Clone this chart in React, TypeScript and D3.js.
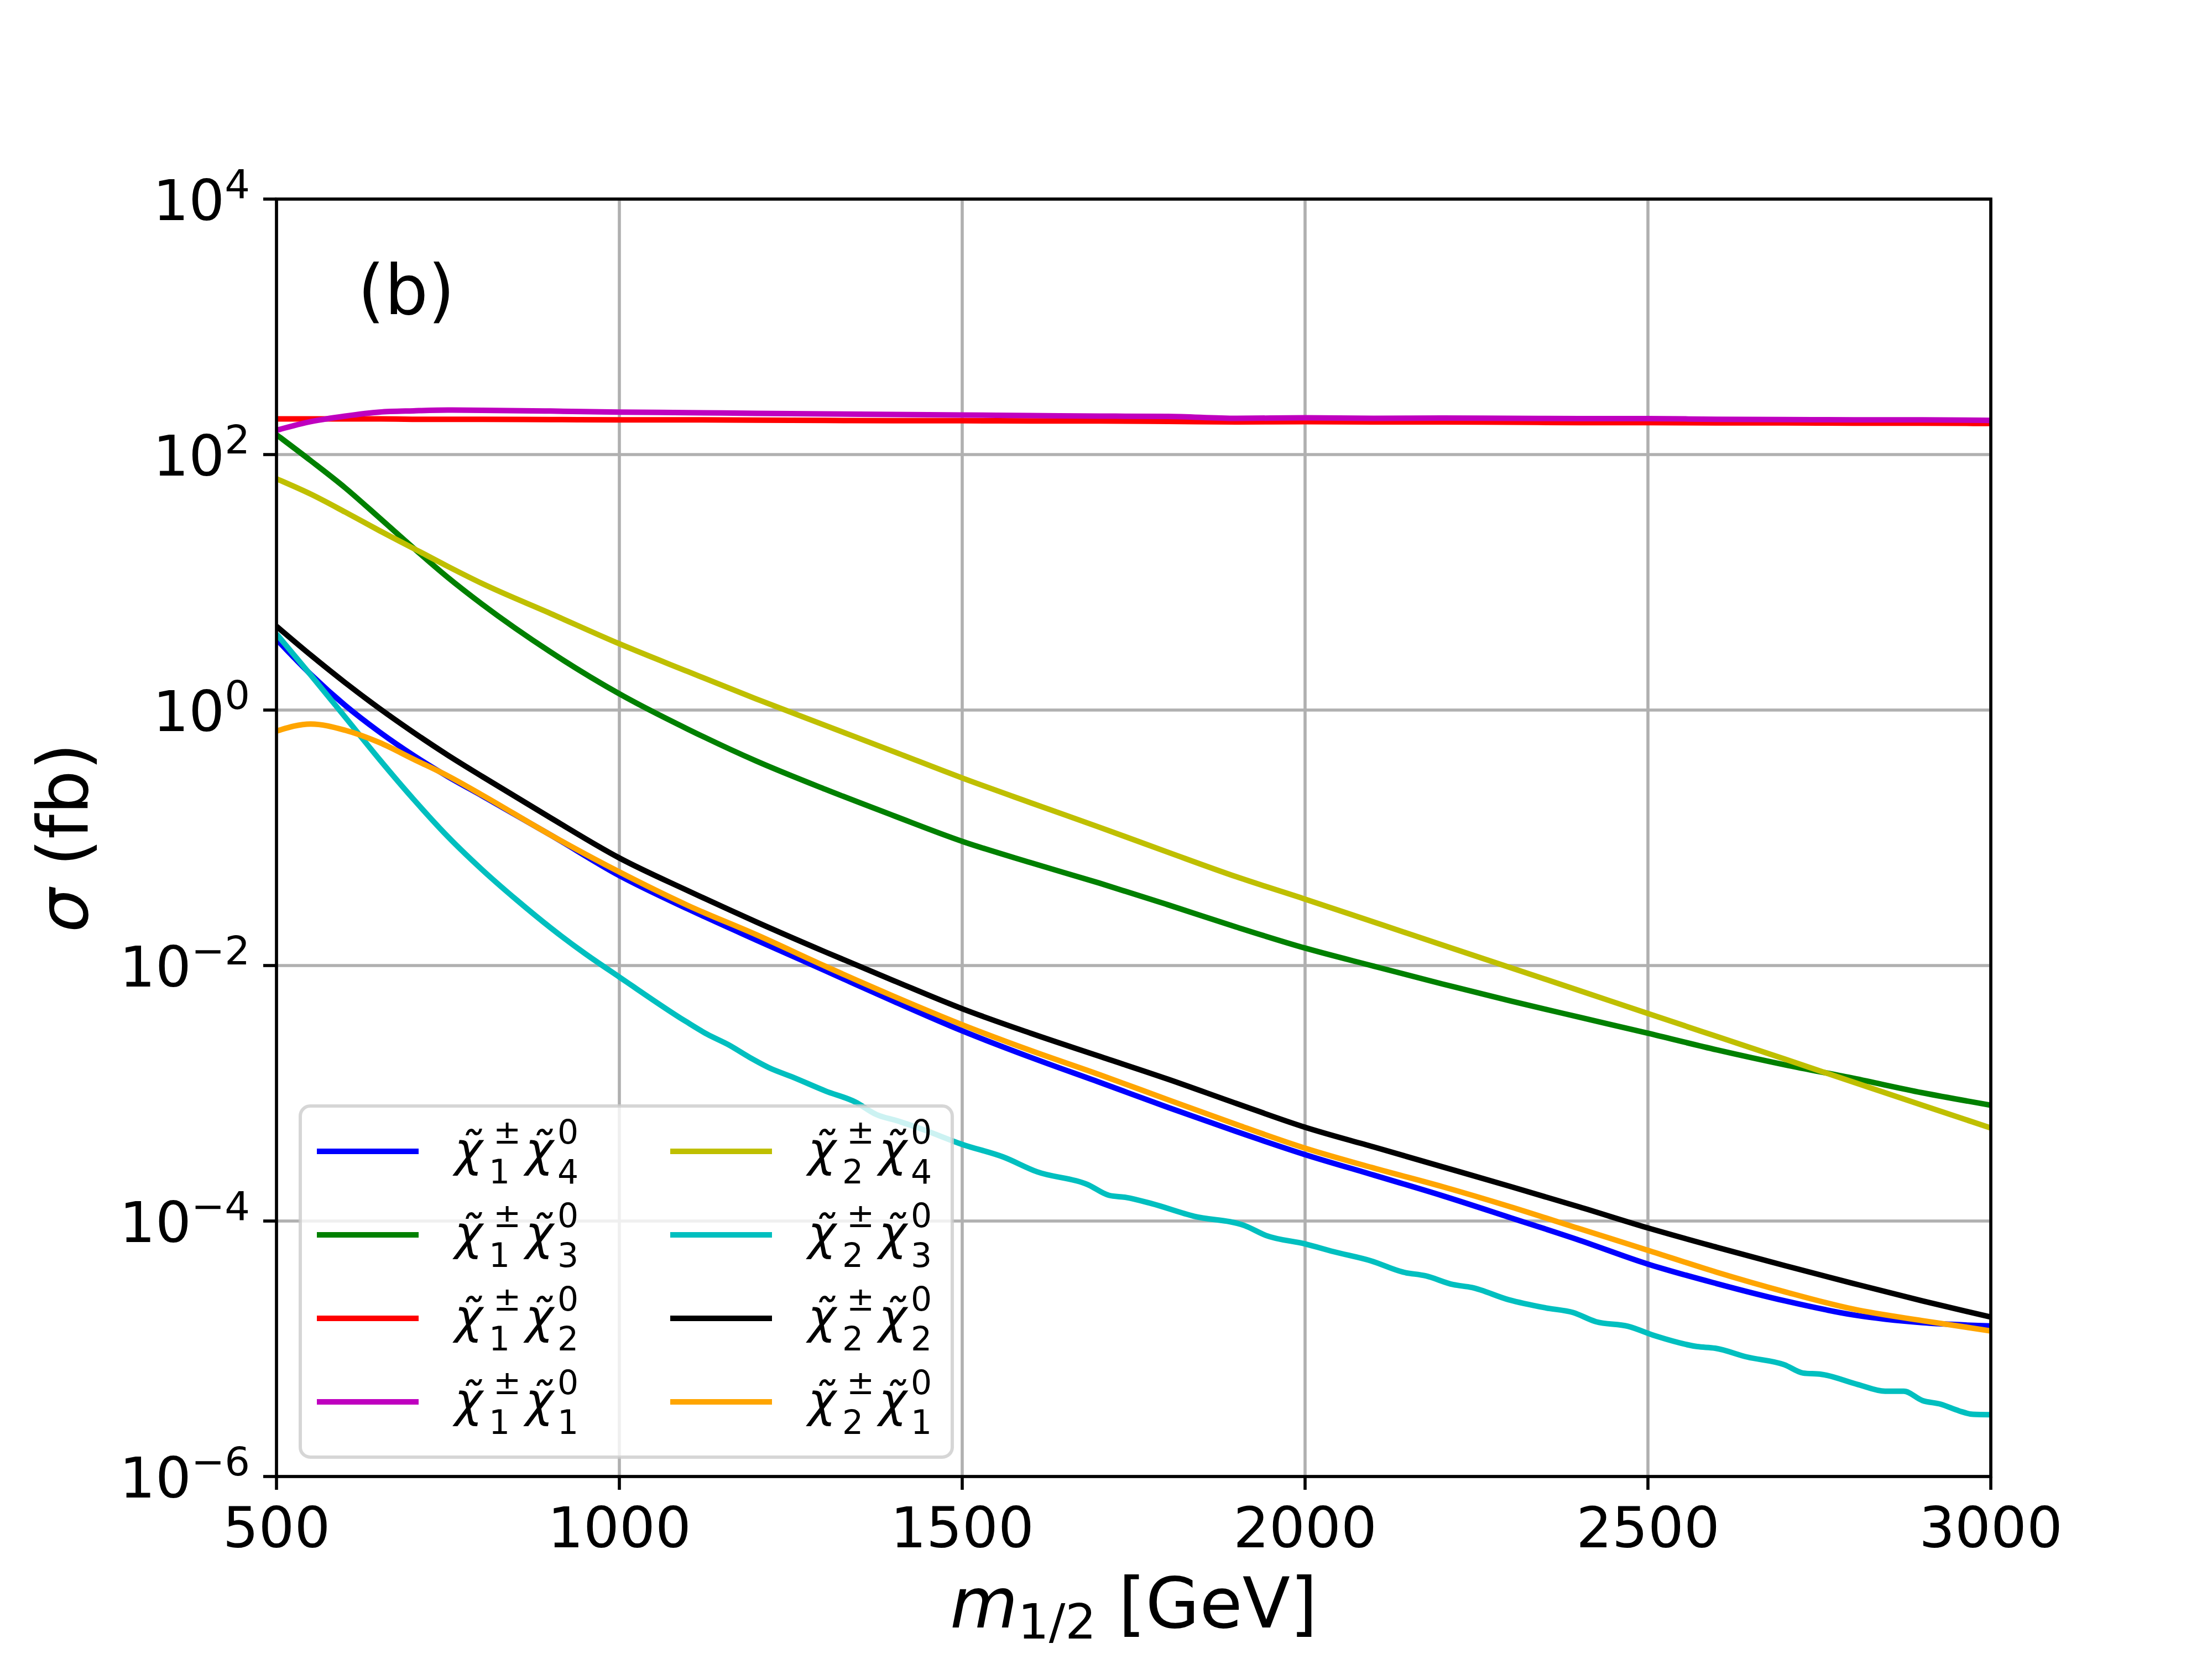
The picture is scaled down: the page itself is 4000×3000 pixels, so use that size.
import React from "react";
import * as d3 from "d3";

// m_{1/2} grid (GeV) shared by the smooth curves
const mHalf = [500, 550, 600, 650, 700, 750, 800, 900, 1000, 1100, 1200, 1300, 1400, 1500, 1600, 1700, 1800, 1900, 2000, 2100, 2200, 2300, 2400, 2500, 2600, 2700, 2800, 2900, 3000];

// cross sections in fb
const c1n4 = [3.58, 1.9, 1.09, 0.675, 0.441, 0.301, 0.213, 0.105, 0.0506, 0.0277, 0.0158, 0.00912, 0.00525, 0.00308, 0.00191, 0.00122, 7.76e-4, 5.01e-4, 3.31e-4, 2.29e-4, 1.58e-4, 1.06e-4, 7.08e-5, 4.6e-5, 3.24e-5, 2.37e-5, 1.84e-5, 1.6e-5, 1.51e-5];
const c1n3 = [143, 89.5, 55.0, 32.0, 18.5, 10.9, 6.73, 2.84, 1.34, 0.708, 0.398, 0.24, 0.149, 0.0938, 0.0638, 0.0442, 0.0299, 0.02, 0.0137, 0.00989, 0.00718, 0.00528, 0.00394, 0.00295, 0.00219, 0.00167, 0.00131, 0.00101, 8.07e-4];
const c1n2 = [190, 190, 190, 190, 189, 189, 189, 188, 187, 187, 186, 185, 184, 184, 183, 183, 182, 180, 181, 180, 180, 179, 178, 178, 177, 177, 176, 176, 175];
const c1n1 = [155, 181, 200, 215, 220, 223, 222, 219, 215, 213, 210, 208, 206, 204, 202, 200, 199, 192, 194, 192, 193, 192, 191, 191, 189, 188, 187, 187, 185];
const c2n4 = [64.6, 49.0, 35.5, 25.4, 18.4, 13.3, 9.77, 5.69, 3.3, 2.0, 1.22, 0.759, 0.473, 0.294, 0.188, 0.121, 0.0771, 0.0495, 0.0331, 0.0219, 0.0145, 0.00962, 0.00637, 0.00421, 0.00279, 0.00185, 0.00122, 8.07e-4, 5.35e-4];
const c2n2 = [4.53, 2.69, 1.64, 1.03, 0.667, 0.443, 0.302, 0.143, 0.0695, 0.0385, 0.0219, 0.0128, 0.00762, 0.00459, 0.00295, 0.00195, 0.00129, 8.32e-4, 5.42e-4, 3.8e-4, 2.66e-4, 1.86e-4, 1.29e-4, 8.83e-5, 6.24e-5, 4.47e-5, 3.24e-5, 2.37e-5, 1.77e-5];
const c2n1 = [0.685, 0.778, 0.695, 0.557, 0.412, 0.305, 0.216, 0.105, 0.054, 0.0295, 0.0174, 0.00989, 0.00575, 0.00344, 0.00216, 0.0014, 8.91e-4, 5.69e-4, 3.72e-4, 2.6e-4, 1.86e-4, 1.29e-4, 8.71e-5, 5.9e-5, 3.98e-5, 2.79e-5, 2.04e-5, 1.66e-5, 1.38e-5];

// chi2+- chi3^0 is noisy, so it has its own points
const mC2n3 = [500, 550, 600, 650, 700, 750, 800, 850, 900, 950, 1000, 1097, 1128, 1159, 1190, 1220, 1251, 1301, 1344, 1375, 1406, 1443, 1500, 1560, 1609, 1683, 1714, 1739, 1776, 1838, 1912, 1943, 2000, 2042, 2096, 2143, 2176, 2216, 2243, 2297, 2351, 2391, 2424, 2471, 2511, 2572, 2598, 2645, 2699, 2726, 2753, 2806, 2846, 2873, 2900, 2927, 2954, 2974, 3000];
const c2n3 = [3.94, 1.88, 0.881, 0.412, 0.2, 0.102, 0.0562, 0.0327, 0.0197, 0.0124, 0.00813, 0.00365, 0.0029, 0.0024, 0.00191, 0.00157, 0.00135, 0.00104, 8.55e-4, 6.81e-4, 6.07e-4, 5.2e-4, 3.98e-4, 3.17e-4, 2.43e-4, 1.93e-4, 1.59e-4, 1.53e-4, 1.37e-4, 1.09e-4, 9.2e-5, 7.71e-5, 6.62e-5, 5.75e-5, 4.88e-5, 3.98e-5, 3.72e-5, 3.18e-5, 3.02e-5, 2.42e-5, 2.09e-5, 1.92e-5, 1.63e-5, 1.5e-5, 1.26e-5, 1.04e-5, 1.01e-5, 8.61e-6, 7.5e-6, 6.46e-6, 6.31e-6, 5.25e-6, 4.65e-6, 4.65e-6, 3.94e-6, 3.68e-6, 3.26e-6, 3.07e-6, 3.05e-6];

const xTicks = [500, 1000, 1500, 2000, 2500, 3000];
const yExponents = [4, 2, 0, -2, -4, -6];

interface Series {
  m: number[];
  sigma: number[];
  color: string;
  chargino: string;
  neutralino: string;
}

// plotting order = legend order (column-major)
const series: Series[] = [
  { m: mHalf, sigma: c1n4, color: "#0000ff", chargino: "1", neutralino: "4" },
  { m: mHalf, sigma: c1n3, color: "#008000", chargino: "1", neutralino: "3" },
  { m: mHalf, sigma: c1n2, color: "#ff0000", chargino: "1", neutralino: "2" },
  { m: mHalf, sigma: c1n1, color: "#bf00bf", chargino: "1", neutralino: "1" },
  { m: mHalf, sigma: c2n4, color: "#bfbf00", chargino: "2", neutralino: "4" },
  { m: mC2n3, sigma: c2n3, color: "#00bfbf", chargino: "2", neutralino: "3" },
  { m: mHalf, sigma: c2n2, color: "#000000", chargino: "2", neutralino: "2" },
  { m: mHalf, sigma: c2n1, color: "#ffa500", chargino: "2", neutralino: "1" },
];

const W = 4000;
const H = 3000;
const left = 500, right = 3600, top = 360, bottom = 2670;
const font = "'DejaVu Sans', sans-serif";

const x = d3.scaleLinear().domain([500, 3000]).range([left, right]);
const y = d3.scaleLog().domain([1e-6, 1e4]).range([bottom, top]);

const line = d3
  .line<[number, number]>()
  .x((d) => x(d[0]))
  .y((d) => y(d[1]))
  .curve(d3.curveMonotoneX);

const minus = (n: number) => (n < 0 ? "\u2212" + Math.abs(n) : String(n));

// one legend label: chi~_i^± chi~_j^0, as a single text element
const Label: React.FC<{ x0: number; base: number; c: string; n: string }> = ({ x0, base, c, n }) => {
  const small = 60;
  const sub = base + 32;
  const sup = base - 40;
  return (
    <text x={x0} y={base} fontFamily={font} fontSize={86} fill="#000">
      <tspan fontStyle="italic">{"\u03c7\u0303"}</tspan>
      <tspan x={x0 + 62} y={sub} fontSize={small}>{c}</tspan>
      <tspan x={x0 + 70} y={sup} fontSize={small}>±</tspan>
      <tspan x={x0 + 128} y={base} fontStyle="italic">{"\u03c7\u0303"}</tspan>
      <tspan x={x0 + 186} y={sub} fontSize={small}>{n}</tspan>
      <tspan x={x0 + 186} y={sup} fontSize={small}>0</tspan>
    </text>
  );
};

const App: React.FC = () => {
  const legendRows = 4;
  const rowGap = 151;
  const firstRow = 2082;
  const colOffset = 639;

  return (
    <svg width={W} height={H} viewBox={`0 0 ${W} ${H}`} style={{ display: "block" }}>
      <style>{"body{margin:0}"}</style>
      <rect x={0} y={0} width={W} height={H} fill="#fff" />

      {/* grid */}
      <g stroke="#b0b0b0" strokeWidth={5.6}>
        {xTicks.map((t) => (
          <line key={"gx" + t} x1={x(t)} x2={x(t)} y1={top} y2={bottom} />
        ))}
        {yExponents.map((e) => (
          <line key={"gy" + e} x1={left} x2={right} y1={y(Math.pow(10, e))} y2={y(Math.pow(10, e))} />
        ))}
      </g>

      {/* curves */}
      <defs>
        <clipPath id="plotArea">
          <rect x={left} y={top} width={right - left} height={bottom - top} />
        </clipPath>
      </defs>
      <g clipPath="url(#plotArea)" fill="none" strokeWidth={10} strokeLinejoin="round" strokeLinecap="butt">
        {series.map((s, i) => (
          <path key={i} d={line(s.m.map((m, k) => [m, s.sigma[k]] as [number, number])) || ""} stroke={s.color} />
        ))}
      </g>

      {/* frame and ticks */}
      <rect x={left} y={top} width={right - left} height={bottom - top} fill="none" stroke="#000" strokeWidth={5.6} />
      <g stroke="#000" strokeWidth={5.6}>
        {xTicks.map((t) => (
          <line key={"tx" + t} x1={x(t)} x2={x(t)} y1={bottom} y2={bottom + 24} />
        ))}
        {yExponents.map((e) => (
          <line key={"ty" + e} x1={left - 24} x2={left} y1={y(Math.pow(10, e))} y2={y(Math.pow(10, e))} />
        ))}
      </g>

      {/* tick labels */}
      <g fontFamily={font} fill="#000">
        {xTicks.map((t) => (
          <text key={"lx" + t} x={x(t)} y={2798} fontSize={102} textAnchor="middle">{t}</text>
        ))}
        {yExponents.map((e) => (
          <text key={"ly" + e} x={452} y={y(Math.pow(10, e)) + 38} fontSize={102} textAnchor="end">
            10<tspan dy={-40} fontSize={72}>{minus(e)}</tspan>
          </text>
        ))}
      </g>

      {/* axis labels */}
      <text x={(left + right) / 2} y={2943} fontFamily={font} fontSize={126} textAnchor="middle" style={{ whiteSpace: "pre" }}>
        <tspan fontStyle="italic">m</tspan>
        <tspan fontSize={88} dy={20}>1/2</tspan>
        <tspan dy={-20}> [GeV]</tspan>
      </text>
      <text transform={`translate(158,${(top + bottom) / 2}) rotate(-90)`} fontFamily={font} fontSize={126} textAnchor="middle" style={{ whiteSpace: "pre" }}>
        <tspan fontStyle="italic">σ</tspan>
        <tspan> (fb)</tspan>
      </text>

      <text x={647} y={568} fontFamily={font} fontSize={124}>(b)</text>

      {/* legend */}
      <rect x={543} y={2000} width={1179} height={635} rx={18} ry={18} fill="#fff" fillOpacity={0.8} stroke="#cccccc" strokeOpacity={0.8} strokeWidth={6} />
      {series.map((s, i) => {
        const col = Math.floor(i / legendRows);
        const row = i % legendRows;
        const cy = firstRow + row * rowGap;
        const ox = col * colOffset;
        return (
          <g key={"lg" + i}>
            <line x1={573 + ox} x2={757 + ox} y1={cy} y2={cy} stroke={s.color} strokeWidth={10} />
            <Label x0={822 + ox} base={cy + 26} c={s.chargino} n={s.neutralino} />
          </g>
        );
      })}
    </svg>
  );
};

export default App;
